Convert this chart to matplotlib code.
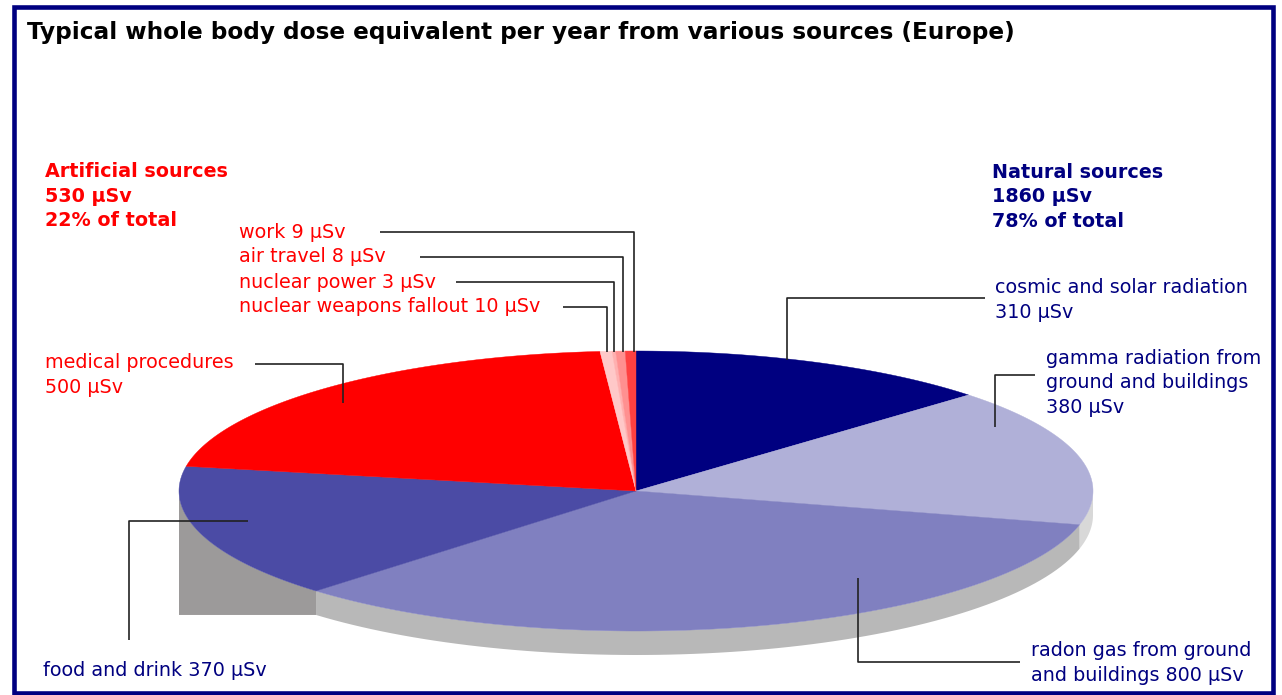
import numpy as np
import matplotlib
matplotlib.use("Agg")
import matplotlib.pyplot as plt
from matplotlib.patches import Polygon, Rectangle

# data, clockwise from 12 o'clock
sources = ["cosmic and solar radiation", "gamma radiation from ground and buildings",
           "radon gas from ground and buildings", "food and drink", "medical procedures",
           "nuclear weapons fallout", "nuclear power", "air travel", "work"]
doses = [310, 380, 800, 370, 500, 10, 3, 8, 9]
natural = [True, True, True, True, False, False, False, False, False]
top_colors = ["#000080", "#b0b0d8", "#8080c0", "#4b4ba5", "#ff0000",
              "#ffc8c8", "#ffb0b0", "#ff9090", "#ff4040"]
side_colors = ["#7a7a7a", "#d8d8d8", "#b8b8b8", "#9c9a9a", "#a0a0a0",
               "#a0a0a0", "#a0a0a0", "#a0a0a0", "#a0a0a0"]

NAVY = "#000080"
RED = "#ff0000"
FONT = "DejaVu Sans"

W, H = 1282, 695
fig = plt.figure(figsize=(W / 100, H / 100), dpi=100)
ax = fig.add_axes([0, 0, 1, 1])
ax.set_xlim(0, W)
ax.set_ylim(H, 0)
ax.axis("off")

# pie geometry (pixels)
cx, cy, rx, ry, depth = 636, 491, 457, 140, 24


def pt(t, dy=0):
    r = np.radians(t)
    return cx + rx * np.cos(r), cy - ry * np.sin(r) + dy


total = sum(doses)
cum = np.concatenate([[0], np.cumsum(doses)])
starts = 90 - 360 * cum[:-1] / total
ends = 90 - 360 * cum[1:] / total

# side walls (front half only)
for i in range(len(doses)):
    a, b = starts[i], ends[i]
    a2, b2 = min(a, 0), max(b, -180)
    if a2 <= b2:
        continue
    ts = np.linspace(a2, b2, 80)
    top = [pt(t) for t in ts]
    if sources[i] == "food and drink":
        # flat bottom edge as in the original rendering
        yb = pt(a2, depth)[1]
        bottom = [(pt(b2)[0], yb), (pt(a2)[0], yb)]
    else:
        bottom = [pt(t, depth) for t in ts[::-1]]
    ax.add_patch(Polygon(top + bottom, closed=True, facecolor=side_colors[i],
                         edgecolor="none", zorder=1))

# top faces
for i in range(len(doses)):
    ts = np.linspace(starts[i], ends[i], max(4, int(abs(ends[i] - starts[i]) * 2)))
    verts = [(cx, cy)] + [pt(t) for t in ts]
    ax.add_patch(Polygon(verts, closed=True, facecolor=top_colors[i],
                         edgecolor=top_colors[i], linewidth=0.3, zorder=2))

# leader lines
lc = "#222222"
leaders = [
    [(787, 360), (787, 298), (985, 298)],
    [(995, 427), (995, 375), (1035, 375)],
    [(858, 578), (858, 662), (1020, 662)],
    [(248, 521), (129, 521), (129, 640)],
    [(343, 403), (343, 364), (255, 364)],
    [(607, 352), (607, 307), (563, 307)],
    [(614, 352), (614, 282), (456, 282)],
    [(623, 352), (623, 257), (420, 257)],
    [(634, 352), (634, 232), (380, 232)],
]
for pts in leaders:
    xs, ys = zip(*pts)
    ax.plot(xs, ys, color=lc, lw=1.2, zorder=3, solid_capstyle="butt")

unit = "\u00b5Sv"
label_text = [
    f"cosmic and solar radiation\n{doses[0]} {unit}",
    f"gamma radiation from\nground and buildings\n{doses[1]} {unit}",
    f"radon gas from ground\nand buildings {doses[2]} {unit}",
    f"food and drink {doses[3]} {unit}",
    f"medical procedures\n{doses[4]} {unit}",
    f"nuclear weapons fallout {doses[5]} {unit}",
    f"nuclear power {doses[6]} {unit}",
    f"air travel {doses[7]} {unit}",
    f"work {doses[8]} {unit}",
]
label_pos = [(995, 300), (1046, 383), (1031, 663), (43, 670), (45, 375),
             (239, 307), (239, 282), (239, 257), (239, 232)]
fs = 13.8
ls = 1.38
for i, (x, y) in enumerate(label_pos):
    ax.text(x, y, label_text[i], color=NAVY if natural[i] else RED, fontsize=fs,
            family=FONT, ha="left", va="center", linespacing=ls, zorder=4)

nat_total = sum(d for d, n in zip(doses, natural) if n)
art_total = total - nat_total
ax.text(992, 197, f"Natural sources\n{nat_total} {unit}\n{round(100 * nat_total / total)}% of total",
        color=NAVY, fontsize=fs, fontweight="bold", family=FONT, ha="left",
        va="center", linespacing=ls)
ax.text(45, 196, f"Artificial sources\n{art_total} {unit}\n{round(100 * art_total / total)}% of total",
        color=RED, fontsize=fs, fontweight="bold", family=FONT, ha="left",
        va="center", linespacing=ls)

ax.text(27, 32, "Typical whole body dose equivalent per year from various sources (Europe)",
        color="black", fontsize=16.7, fontweight="bold", family=FONT,
        ha="left", va="center")

# frame
ax.add_patch(Rectangle((14, 6.5), 1258.5, 686, fill=False, edgecolor=NAVY,
                       linewidth=3.3, zorder=5))

fig.savefig("out.png", dpi=100)
